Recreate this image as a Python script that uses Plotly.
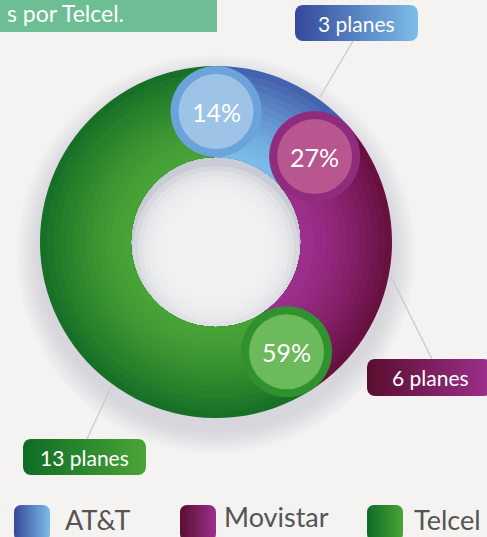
import math
import plotly.graph_objects as go

# ---------------- data ----------------
operators = ["AT&T", "Movistar", "Telcel"]
plan_counts = [3, 6, 13]
callout_texts = ["3 planes", "6 planes", "13 planes"]
header_text = "s por Telcel."

# ---------------- styling ----------------
W, H = 487, 537
BG = "#f4f3f2"
FONT = "Lato"
inner_cols = [(0x7a, 0xbb, 0xe8), (0x9c, 0x2f, 0x8c), (0x47, 0xa3, 0x36)]
outer_cols = [(0x45, 0x62, 0xae), (0x68, 0x10, 0x40), (0x17, 0x70, 0x26)]
cap_ring = ["#6ba3db", "#902c7e", "#30922f"]
cap_inner = ["#9dc4e6", "#b7568f", "#6dba5c"]
grad_left = ["#34489a", "#5a0e2e", "#0e6b25"]
grad_right = ["#7cbde9", "#9c308e", "#4aa536"]

CX, CY = 216, 242          # donut centre (px)
R_OUT, R_IN = 176, 85
N_RINGS = 14

callout_boxes = [(295, 418, 5, 41), (367, 492, 359, 396), (23, 146, 439, 475)]
callout_lines = [((320, 97), (353, 41)), ((391, 277), (432, 359)), ((112, 385), (87, 439))]

legend_sq_x = [14, 180, 367]
legend_txt_x = [63, 222, 412]
legend_txt_y = [519, 516, 519]

fig = go.Figure()


def rrect(x0, x1, y0, y1, r, n=8):
    xs, ys = [], []
    corners = [(x1 - r, y0 + r, -90, 0), (x1 - r, y1 - r, 0, 90),
               (x0 + r, y1 - r, 90, 180), (x0 + r, y0 + r, 180, 270)]
    for cx, cy, a0, a1 in corners:
        for i in range(n + 1):
            a = math.radians(a0 + (a1 - a0) * i / n)
            xs.append(cx + r * math.cos(a))
            ys.append(cy + r * math.sin(a))
    xs.append(xs[0]); ys.append(ys[0])
    return xs, ys


def circle(cx, cy, r, fill, opacity=1.0, layer="above"):
    return dict(type="circle", xref="x", yref="y", x0=cx - r, x1=cx + r,
                y0=cy - r, y1=cy + r, fillcolor=fill, line=dict(width=0),
                opacity=opacity, layer=layer)


def mix(c1, c2, t):
    return "rgb(%d,%d,%d)" % tuple(round(a + (b - a) * t) for a, b in zip(c1, c2))


shapes = []

# soft shadow under donut
for k in range(8):
    shapes.append(circle(CX, CY + 12, R_OUT + 2 + 3 * k, "#8a8fa3", 0.03, "below"))
# hole: grey edge fading to light centre (stronger at top)
shapes.append(circle(CX, CY, R_IN + 1, "#c9ccd4", 1.0, "below"))
for k in range(9):
    shapes.append(circle(CX, CY + 7, R_IN - 2 - 5 * k, BG, 0.34, "below"))

# header box
shapes.append(dict(type="rect", xref="x", yref="y", x0=-5, x1=217, y0=-5, y1=32,
                   fillcolor="#6dbe95", line=dict(width=0), layer="below"))

# donut: stacked pies (outer to inner) for a radial shading
for k in range(N_RINGS):
    t = 1 - k / (N_RINGS - 1)          # 1 at outer edge, 0 at inner
    r = R_IN + (R_OUT - R_IN) * (N_RINGS - k) / N_RINGS
    cols = [mix(inner_cols[i], outer_cols[i], t ** 1.3) for i in range(len(plan_counts))]
    fig.add_trace(go.Pie(
        labels=operators, values=plan_counts, hole=R_IN / r, sort=False,
        direction="clockwise", rotation=0, textinfo="none",
        hoverinfo="label+percent" if k == 0 else "skip",
        marker=dict(colors=cols, line=dict(width=0)),
        domain=dict(x=[(CX - r) / W, (CX + r) / W],
                    y=[1 - (CY + r) / H, 1 - (CY - r) / H]),
        showlegend=False,
    ))

# rounded caps with percentage labels at each slice start
total = sum(plan_counts)
cum = 0
annotations = []
r_mid = (R_OUT + R_IN) / 2
cap_r = (R_OUT - R_IN) / 2
for i, v in enumerate(plan_counts):
    ang = 2 * math.pi * cum / total
    px = CX + r_mid * math.sin(ang)
    py = CY - r_mid * math.cos(ang)
    shapes.append(circle(px, py, cap_r, cap_ring[i]))
    shapes.append(circle(px, py, cap_r - 8, cap_inner[i]))
    annotations.append(dict(x=px, y=py, xref="x", yref="y", showarrow=False,
                            text=f"{round(100 * v / total)}%",
                            font=dict(family=FONT, size=25, color="white")))
    cum += v

# callouts
for i, txt in enumerate(callout_texts):
    (x0, y0), (x1, y1) = callout_lines[i]
    shapes.append(dict(type="line", xref="x", yref="y", x0=x0, y0=y0, x1=x1, y1=y1,
                       line=dict(color="#c9c9c9", width=1.2), layer="below"))
    bx0, bx1, by0, by1 = callout_boxes[i]
    xs, ys = rrect(bx0, bx1, by0, by1, 8)
    fig.add_trace(go.Scatter(x=xs, y=ys, mode="lines", fill="toself",
                             line=dict(width=0),
                             fillgradient=dict(type="horizontal",
                                               colorscale=[[0, grad_left[i]], [1, grad_right[i]]]),
                             hoverinfo="skip", showlegend=False))
    annotations.append(dict(x=(bx0 + min(bx1, 487)) / 2 + (3 if i == 1 else 0),
                            y=(by0 + by1) / 2, xref="x", yref="y",
                            showarrow=False, text=txt,
                            font=dict(family=FONT, size=21, color="white")))

# custom legend
for i, name in enumerate(operators):
    sx = legend_sq_x[i]
    xs, ys = rrect(sx, sx + 36, 505, 541, 7)
    fig.add_trace(go.Scatter(x=xs, y=ys, mode="lines", fill="toself",
                             line=dict(width=0),
                             fillgradient=dict(type="horizontal",
                                               colorscale=[[0, grad_left[i]], [1, grad_right[i]]]),
                             hoverinfo="skip", showlegend=False))
    annotations.append(dict(x=legend_txt_x[i], y=legend_txt_y[i], xref="x", yref="y",
                            xanchor="left", showarrow=False, text=name,
                            font=dict(family=FONT, size=27, color="#555555")))

# header text (kept just inside the top edge of the green bar)
annotations.append(dict(x=126, y=29, xref="x", yref="y", xanchor="right", yanchor="bottom",
                        showarrow=False, text=header_text,
                        font=dict(family=FONT, size=23, color="white")))

fig.update_layout(
    width=W, height=H, margin=dict(l=0, r=0, t=0, b=0),
    paper_bgcolor=BG, plot_bgcolor=BG,
    xaxis=dict(range=[0, W], visible=False, fixedrange=True),
    yaxis=dict(range=[H, 0], visible=False, fixedrange=True),
    shapes=shapes, annotations=annotations, showlegend=False,
)

fig.write_html("out.html", config=dict(displayModeBar=False),
               post_script="document.body.style.margin='0';document.body.style.overflow='hidden';")
